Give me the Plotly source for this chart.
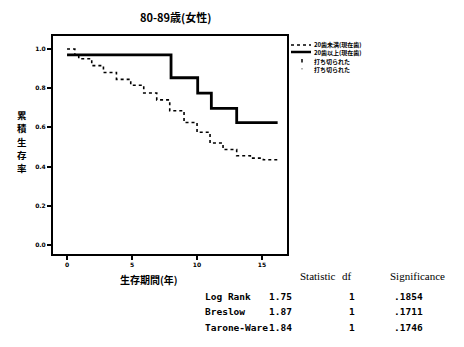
import plotly.graph_objects as go

# ---- data ----
title_text = "80-89歳(女性)"
y_title_chars = ["累", "積", "生", "存", "率"]
x_title = "生存期間(年)"
series_names = ["20歯未満(現在歯)", "20歯以上(現在歯)"]
censor_labels = ["打ち切られた", "打ち切られた"]

t_lt20 = [0, 0.6, 0.9, 1.9, 2.8, 3.8, 4.9, 5.9, 6.9, 7.9, 9.0, 10.0, 11.0, 12.0, 13.05, 14.1, 15.1, 16.2]
s_lt20 = [1.0, 0.97, 0.95, 0.915, 0.88, 0.845, 0.815, 0.775, 0.74, 0.685, 0.625, 0.575, 0.52, 0.487, 0.455, 0.443, 0.435, 0.435]

t_ge20 = [0, 8.0, 10.05, 11.1, 13.05, 16.2]
s_ge20 = [0.97, 0.853, 0.775, 0.697, 0.624, 0.624]

x_ticks = [0, 5, 10, 15]
y_ticks = [0.0, 0.2, 0.4, 0.6, 0.8, 1.0]
y_ticklabels = ["0.0", "0.2", "0.4", "0.6", "0.8", "1.0"]

stat_header = ["Statistic", "df", "Significance"]
stat_tests = ["Log Rank", "Breslow", "Tarone-Ware"]
stat_values = ["1.75", "1.87", "1.84"]
stat_df = ["1", "1", "1"]
stat_sig = [".1854", ".1711", ".1746"]

# ---- geometry helpers (reference pixel -> paper); page body has an 8px margin ----
OFF = 8
W, H = 464 - OFF, 347 - OFF
L, R, T, B = 53, 287, 36, 254  # plot box in reference pixels


def px(x):
    return (x - L) / (R - L)


def py(y):
    return (B - y) / (B - T)


fig = go.Figure()
fig.add_trace(go.Scatter(x=t_lt20, y=s_lt20, mode="lines", line_shape="hv",
                         line=dict(color="black", width=1.6, dash="dot"),
                         showlegend=False))
fig.add_trace(go.Scatter(x=t_ge20, y=s_ge20, mode="lines", line_shape="hv",
                         line=dict(color="black", width=2.8),
                         showlegend=False))

cjk = "Noto Sans CJK JP"
ann = []
ann.append(dict(text="<b>" + title_text + "</b>", x=px(175), y=py(8), xref="paper", yref="paper",
                showarrow=False, font=dict(family=cjk, size=11, color="black"), xanchor="center", yanchor="top",
                borderpad=0))
for i, ch in enumerate(y_title_chars):
    ann.append(dict(text="<b>" + ch + "</b>", x=px(22), y=py(115 + 13.3 * i), xref="paper", yref="paper",
                    showarrow=False, font=dict(family=cjk, size=9.5, color="black"),
                    xanchor="center", yanchor="middle", borderpad=0))
ann.append(dict(text="<b>" + x_title + "</b>", x=px(149), y=py(279), xref="paper", yref="paper",
                showarrow=False, font=dict(family=cjk, size=10, color="black"), xanchor="center", yanchor="middle"))

# legend (manual)
leg_rows = [44, 52.5, 61, 69.5]
leg_texts = [series_names[0], series_names[1], censor_labels[0], censor_labels[1]]
for yy, tx in zip(leg_rows, leg_texts):
    ann.append(dict(text="<b>" + tx + "</b>", x=px(313), y=py(yy), xref="paper", yref="paper",
                    showarrow=False, font=dict(family=cjk, size=6, color="black"), xanchor="left", yanchor="middle",
                    borderpad=0))
shapes = []
shapes.append(dict(type="line", xref="paper", yref="paper", x0=px(291), x1=px(311), y0=py(45), y1=py(45),
                   line=dict(color="black", width=1.3, dash="dot")))
shapes.append(dict(type="line", xref="paper", yref="paper", x0=px(291), x1=px(311), y0=py(52), y1=py(52),
                   line=dict(color="black", width=2.5)))
shapes.append(dict(type="line", xref="paper", yref="paper", x0=px(302), x1=px(302), y0=py(59), y1=py(62.5),
                   line=dict(color="black", width=1.5)))
shapes.append(dict(type="line", xref="paper", yref="paper", x0=px(302), x1=px(302), y0=py(68), y1=py(69.5),
                   line=dict(color="gray", width=1.2)))

# statistics table
hdr_font = dict(family="Liberation Serif", size=11, color="black")
ann.append(dict(text=stat_header[0], x=px(298), y=py(276), xref="paper", yref="paper", showarrow=False,
                font=hdr_font, xanchor="left", yanchor="middle"))
ann.append(dict(text=stat_header[1], x=px(340), y=py(276), xref="paper", yref="paper", showarrow=False,
                font=hdr_font, xanchor="left", yanchor="middle"))
ann.append(dict(text=stat_header[2], x=px(388), y=py(276), xref="paper", yref="paper", showarrow=False,
                font=hdr_font, xanchor="left", yanchor="middle"))
row_font = dict(family="DejaVu Sans Mono", size=9.5, color="black")
row_y = [296, 311, 327]
for i in range(3):
    ann.append(dict(text="<b>" + stat_tests[i] + "</b>", x=px(203), y=py(row_y[i]), xref="paper", yref="paper",
                    showarrow=False, font=row_font, xanchor="left", yanchor="middle"))
    ann.append(dict(text="<b>" + stat_values[i] + "</b>", x=px(267), y=py(row_y[i]), xref="paper", yref="paper",
                    showarrow=False, font=row_font, xanchor="left", yanchor="middle"))
    ann.append(dict(text="<b>" + stat_df[i] + "</b>", x=px(352), y=py(row_y[i]), xref="paper", yref="paper",
                    showarrow=False, font=row_font, xanchor="center", yanchor="middle"))
    ann.append(dict(text="<b>" + stat_sig[i] + "</b>", x=px(392), y=py(row_y[i]), xref="paper", yref="paper",
                    showarrow=False, font=row_font, xanchor="left", yanchor="middle"))

fig.update_layout(
    width=W, height=H,
    margin=dict(l=L - OFF, r=W + OFF - R, t=T - OFF, b=H + OFF - B, pad=0),
    paper_bgcolor="white", plot_bgcolor="white",
    annotations=ann, shapes=shapes, showlegend=False,
    xaxis=dict(range=[-1.08, 16.92], tickvals=x_ticks, ticktext=[f"<b>{v}</b>" for v in x_ticks],
               showgrid=False, zeroline=False, showline=True, linecolor="black", linewidth=2, mirror=True,
               ticks="outside", ticklen=4, tickwidth=1.5, tickcolor="black",
               tickfont=dict(family="DejaVu Sans", size=6, color="black")),
    yaxis=dict(range=[-0.046, 1.066], tickvals=y_ticks, ticktext=[f"<b>{v}</b>" for v in y_ticklabels],
               showgrid=False, zeroline=False, showline=True, linecolor="black", linewidth=2, mirror=True,
               ticks="outside", ticklen=4, tickwidth=1.5, tickcolor="black",
               tickfont=dict(family="DejaVu Sans", size=6, color="black")),
)

fig.write_html("out.html")
